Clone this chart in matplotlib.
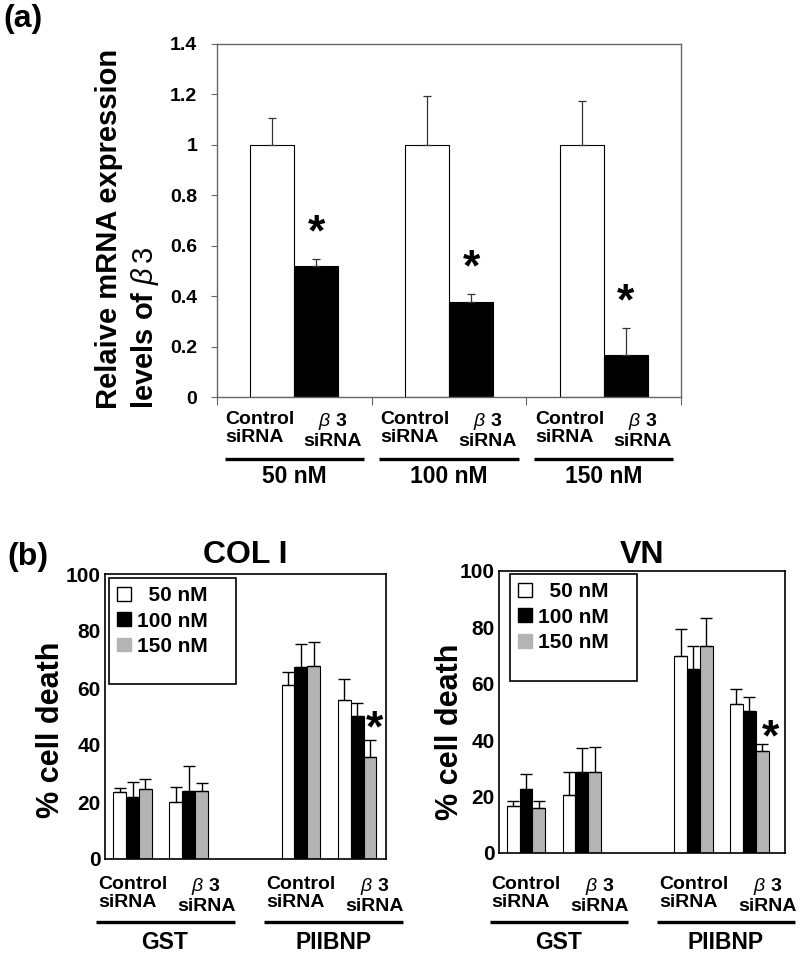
import numpy as np
import matplotlib.pyplot as plt
from matplotlib import transforms
from matplotlib.patches import Patch, Rectangle

plt.rcParams['font.family'] = ['Liberation Sans', 'DejaVu Sans']
plt.rcParams['font.weight'] = 'bold'
plt.rcParams['mathtext.fontset'] = 'custom'
plt.rcParams['mathtext.it'] = 'Liberation Sans:italic:regular'
plt.rcParams['mathtext.rm'] = 'Liberation Sans:regular'

# ---- panel (a) data ----
doses = ['50 nM', '100 nM', '150 nM']
ctrl_mrna = [1.0, 1.0, 1.0]
ctrl_mrna_err = [0.108, 0.195, 0.172]
b3_mrna = [0.52, 0.377, 0.166]
b3_mrna_err = [0.026, 0.031, 0.107]

# ---- panel (b) data: GST ctrl, GST b3, PIIBNP ctrl, PIIBNP b3 ----
treatments = ['GST', 'PIIBNP']
conc_labels = ['  50 nM', '100 nM', '150 nM']
col1_50 = [23.4, 19.9, 61.0, 55.9]
col1_50_err = [1.4, 5.2, 4.5, 7.2]
col1_100 = [21.8, 23.9, 67.2, 50.2]
col1_100_err = [5.1, 8.7, 8.1, 4.7]
col1_150 = [24.4, 23.9, 67.6, 35.9]
col1_150_err = [3.5, 2.9, 8.5, 6.0]
vn_50 = [16.7, 20.6, 69.9, 52.8]
vn_50_err = [1.9, 8.1, 9.6, 5.2]
vn_100 = [22.8, 28.7, 65.4, 50.5]
vn_100_err = [5.1, 8.4, 8.1, 4.7]
vn_150 = [15.9, 28.7, 73.5, 36.3]
vn_150_err = [2.7, 8.8, 10.0, 2.5]

GRAY = '#b4b4b4'
W, H = 800, 959
fig = plt.figure(figsize=(8, 9.59), dpi=100)


def px_axes(l, t, r, b):
    return fig.add_axes([l / W, 1 - b / H, (r - l) / W, (b - t) / H])


ctrl_lbl = 'Control\nsiRNA'
b3_lbl = '$\\beta$ 3\nsiRNA'

# ================= (a) =================
ax = px_axes(217, 44, 681, 397)
xa = np.arange(3) + 0.5
bw = 0.285
ekw = dict(ecolor='#333333', elinewidth=0.9, capsize=3, capthick=0.9)
ax.bar(xa - bw / 2, ctrl_mrna, bw, color='white', edgecolor='black', lw=0.8,
       yerr=[np.zeros(3), ctrl_mrna_err], error_kw=ekw)
ax.bar(xa + bw / 2, b3_mrna, bw, color='black', edgecolor='black', lw=0.8,
       yerr=[np.zeros(3), b3_mrna_err], error_kw=ekw)
for i in range(3):
    ax.text(xa[i] + bw / 2, b3_mrna[i] + b3_mrna_err[i] + 0.1, '*',
            ha='center', va='center', fontsize=32)
ax.set_xlim(0, 3)
ax.set_ylim(0, 1.4)
ax.set_yticks(np.arange(0, 1.41, 0.2))
ax.set_yticklabels(['0', '0.2', '0.4', '0.6', '0.8', '1', '1.2', '1.4'])
ax.set_xticks([0, 1, 2, 3])
ax.set_xticklabels([])
ax.tick_params(axis='y', length=4.3, width=0.8, color='#666666', pad=10, labelsize=14)
ax.tick_params(axis='x', length=6, width=0.8, color='#666666')
for s in ax.spines.values():
    s.set_color('#666666')
    s.set_linewidth(1)

tr = transforms.blended_transform_factory(ax.transData, fig.transFigure)
for i in range(3):
    ax.text(xa[i] - 0.22, 1 - 411 / H, ctrl_lbl, transform=tr, ha='center', va='top',
            ma='left', fontsize=14, linespacing=1.05)
    ax.text(xa[i] + 0.25, 1 - 411 / H, b3_lbl, transform=tr, ha='center', va='top',
            ma='center', fontsize=14, linespacing=1.05)
    ax.plot([xa[i] - 0.45, xa[i] + 0.45], [1 - 459 / H] * 2, transform=tr,
            color='black', lw=2.4, clip_on=False, solid_capstyle='butt')
    ax.text(xa[i], 1 - 465 / H, doses[i], transform=tr, ha='center', va='top', fontsize=16.5)

fig.text(128 / W, 1 - 229 / H, 'Relaive mRNA expression\nlevels of $\\beta\\,3$',
         rotation=90, ha='center', va='center', ma='left', fontsize=21, linespacing=1.25)
fig.text(3 / W, 1 - 4 / H, '(a)', ha='left', va='top', fontsize=23)
fig.text(7 / W, 1 - 542 / H, '(b)', ha='left', va='top', fontsize=23)

# ================= (b) =================
xb = np.array([1, 3, 7, 9])
wb = 0.46
ekb = dict(ecolor='black', elinewidth=1, capsize=4, capthick=1)


def cell_panel(ax, title, series, errs, xlim, box, star_dx, star_dy, tpad, lbl_dx):
    for k, (vals, err, col) in enumerate(zip(series, errs, ['white', 'black', GRAY])):
        ax.bar(xb + (k - 1) * wb, vals, wb, color=col, edgecolor='black', lw=0.8,
               yerr=[np.zeros(4), err], error_kw=ekb)
    ax.text(xb[3] + wb + star_dx, series[2][3] + errs[2][3] + star_dy, '*',
            ha='center', va='center', fontsize=32)
    ax.set_xlim(*xlim)
    ax.set_ylim(0, 100)
    ax.set_yticks(range(0, 101, 20))
    ax.set_xticks([])
    ax.tick_params(axis='y', length=0, pad=3, labelsize=15)
    for s in ax.spines.values():
        s.set_color('black')
        s.set_linewidth(1.2)
    ax.set_title(title, fontsize=23, fontweight='bold', pad=tpad)
    ax.add_patch(Rectangle((box[0], box[3]), box[1] - box[0], box[2] - box[3],
                           transform=ax.transAxes, fill=False, edgecolor='black', lw=1.2))
    handles = [Patch(facecolor='white', edgecolor='black'),
               Patch(facecolor='black', edgecolor='black'),
               Patch(facecolor=GRAY, edgecolor=GRAY)]
    ax.legend(handles, conc_labels, loc='upper left', bbox_to_anchor=(box[0], box[2]),
              frameon=False, borderaxespad=0, borderpad=0.4, labelspacing=0.3,
              handlelength=0.65, handleheight=0.65, handletextpad=0.3,
              prop={'weight': 'bold', 'size': 15})
    trb = transforms.blended_transform_factory(ax.transData, fig.transFigure)
    for j in range(4):
        even = j % 2 == 0
        ax.text(xb[j] + (lbl_dx[0] if even else lbl_dx[1]), 1 - 876 / H,
                ctrl_lbl if even else b3_lbl, transform=trb, ha='center', va='top',
                ma='left' if even else 'center', fontsize=14, linespacing=1.05)
    for g in range(2):
        c0, c1 = xb[2 * g], xb[2 * g + 1]
        ax.plot([c0 - 1.3, c1 + 1.65], [1 - 922 / H] * 2, transform=trb, color='black',
                lw=2.4, clip_on=False, solid_capstyle='butt')
        ax.text((c0 + c1) / 2 + 0.15, 1 - 931 / H, treatments[g], transform=trb,
                ha='center', va='top', fontsize=16.5)


axl = px_axes(105, 574, 386, 859)
cell_panel(axl, 'COL I', [col1_50, col1_100, col1_150],
           [col1_50_err, col1_100_err, col1_150_err], (0.02, 10.03),
           (0.014, 0.466, 0.986, 0.614), 0.15, 3.5, 8, (0.0, 0.62))
fig.text(51 / W, 1 - 730 / H, '% cell death', rotation=90, ha='center', va='center', fontsize=22)

axr = px_axes(499, 571, 785, 853)
cell_panel(axr, 'VN', [vn_50, vn_100, vn_150],
           [vn_50_err, vn_100_err, vn_150_err], (0.03, 10.28),
           (0.038, 0.483, 0.989, 0.61), 0.3, 1.5, 6, (0.0, 0.65))
fig.text(450 / W, 1 - 732 / H, '% cell death', rotation=90, ha='center', va='center', fontsize=22)

fig.savefig('out.png', dpi=100)
